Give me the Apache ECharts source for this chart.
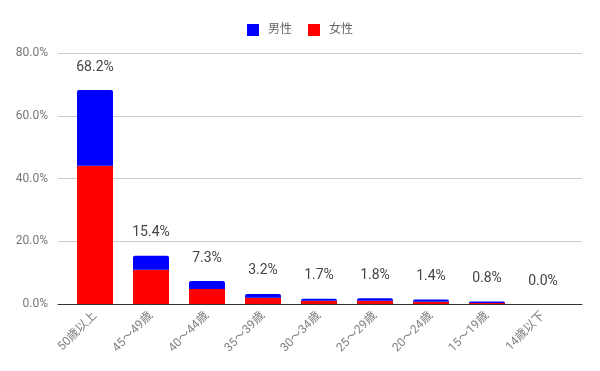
<!DOCTYPE html>
<html><head><meta charset="utf-8">
<script src="https://cdn.jsdelivr.net/npm/echarts@6/dist/echarts.min.js"></script>
<style>html,body{margin:0;padding:0;background:#fff}#c{width:600px;height:371px}</style>
</head><body><div id="c"></div>
<script>
const categories = ['50歳以上','45〜49歳','40〜44歳','35〜39歳','30〜34歳','25〜29歳','20〜24歳','15〜19歳','14歳以下'];
const female = [44.1, 10.9, 4.8, 2.0, 1.0, 1.0, 0.7, 0.3, 0.0];
const male   = [24.1, 4.5, 2.5, 1.2, 0.7, 0.8, 0.7, 0.5, 0.0];
const totals = [68.2, 15.4, 7.3, 3.2, 1.7, 1.8, 1.4, 0.8, 0.0];
const yTicks = [0, 20, 40, 60, 80];

const font = 'Roboto, "Noto Sans CJK JP", sans-serif';
const chart = echarts.init(document.getElementById('c'));
chart.setOption({
  animation: false,
  textStyle: { fontFamily: font },
  legend: {
    top: 19, left: 'center', itemWidth: 12, itemHeight: 12, itemGap: 16,
    icon: 'rect',
    textStyle: { color: '#666', fontSize: 12, fontFamily: font, padding: [0, 0, 0, 4] },
    data: ['男性', '女性']
  },
  grid: [
    { left: 58, right: 18, top: 53, bottom: 67 },
    { left: 67, right: 29, top: 53, bottom: 67 }
  ],
  xAxis: [
    { gridIndex: 0, type: 'value', min: 0, max: 1, show: true,
      axisLine: { show: true, lineStyle: { color: '#333', width: 1 } },
      axisTick: { show: false }, axisLabel: { show: false }, splitLine: { show: false } },
    { gridIndex: 1, type: 'category', data: categories,
      axisLine: { show: false }, axisTick: { show: false },
      axisLabel: { rotate: 45, color: '#808080', fontSize: 12, margin: 10, interval: 0, fontFamily: font } }
  ],
  yAxis: [
    { gridIndex: 0, type: 'value', min: yTicks[0], max: yTicks[yTicks.length-1], interval: 20,
      axisLine: { show: false }, axisTick: { show: false },
      axisLabel: { color: '#777', fontSize: 12, margin: 10, formatter: v => v.toFixed(1) + '%' },
      splitLine: { lineStyle: { color: '#ccc' } } },
    { gridIndex: 1, type: 'value', min: yTicks[0], max: yTicks[yTicks.length-1], interval: 20, show: false,
      splitLine: { show: false } }
  ],
  series: [
    { name: '女性', type: 'bar', xAxisIndex: 1, yAxisIndex: 1, stack: 's', barWidth: 36,
      itemStyle: { color: '#ff0000' }, data: female },
    { name: '男性', type: 'bar', xAxisIndex: 1, yAxisIndex: 1, stack: 's', barWidth: 36,
      itemStyle: { color: '#0000ff', borderRadius: [2, 2, 0, 0] }, data: male,
      label: { show: true, position: 'top', distance: 16, color: '#444', fontSize: 14, fontFamily: font,
        formatter: p => totals[p.dataIndex].toFixed(1) + '%' } }
  ]
});
</script></body></html>
